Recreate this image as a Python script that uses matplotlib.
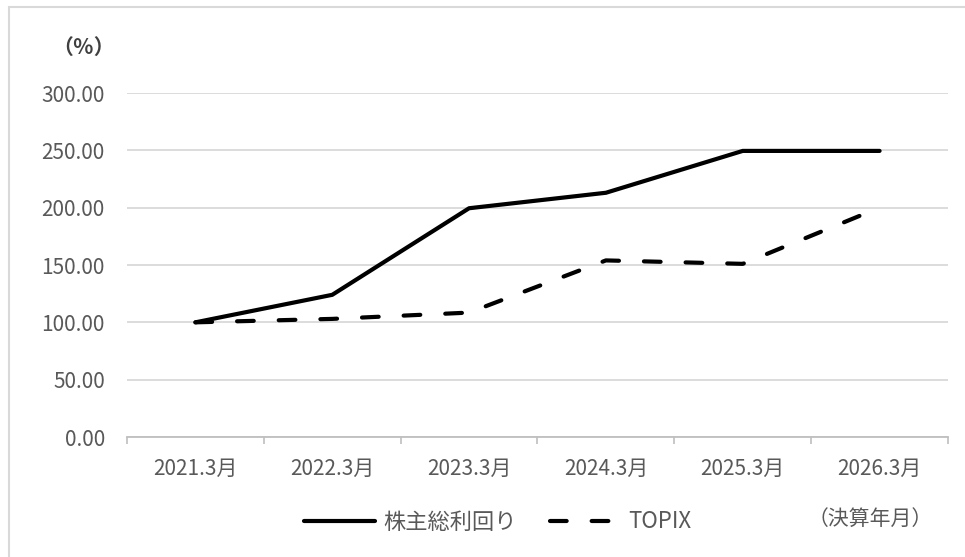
# TSR chart vs TOPIX -> out.png
import matplotlib.pyplot as plt
from matplotlib.patches import Rectangle
import numpy as np

plt.rcParams['font.family'] = ['Noto Sans CJK JP', 'DejaVu Sans']

periods = ["2021.3月", "2022.3月", "2023.3月", "2024.3月", "2025.3月", "2026.3月"]
tsr = [100.0, 124.0, 199.5, 213.0, 249.5, 249.5]
topix = [100.0, 103.0, 108.5, 154.0, 151.0, 200.0]
yticks = [0, 50, 100, 150, 200, 250, 300]

fig = plt.figure(figsize=(9.65, 5.57), dpi=100)
ax = fig.add_axes([127 / 965, 1 - 437 / 557, (948 - 127) / 965, (437 - 93) / 557])

x = np.arange(len(periods))
ax.plot(x, tsr, color="black", lw=3.0, solid_capstyle="round", solid_joinstyle="round",
        label="株主総利回り")
ax.plot(x, topix, color="black", lw=3.0, dashes=(4, 6), dash_capstyle="round",
        label="TOPIX")

ax.set_xlim(-0.5, len(periods) - 0.5)
ax.set_ylim(0, 300)
ax.set_yticks(yticks)
ax.set_yticklabels([f"{v:.2f}" for v in yticks], fontsize=15, color="#595959")
ax.set_xticks(x)
ax.set_xticklabels(periods, fontsize=15, color="#595959")
ax.set_xticks(np.arange(len(periods) + 1) - 0.5, minor=True)
ax.tick_params(axis="x", which="major", length=0, pad=15)
ax.tick_params(axis="x", which="minor", length=5, color="#bfbfbf", width=1.2)
ax.tick_params(axis="y", length=0, pad=16)

ax.grid(axis="y", color="#d9d9d9", lw=1.3)
ax.set_axisbelow(True)
for s in ["top", "right", "left"]:
    ax.spines[s].set_visible(False)
ax.spines["bottom"].set_color("#bfbfbf")
ax.spines["bottom"].set_linewidth(1.3)

fig.text(84 / 965, 1 - 47 / 557, "（％）", ha="center", va="center", fontsize=15,
         color="#404040", fontweight="bold")

leg = fig.legend(loc="center", bbox_to_anchor=(498 / 965, 1 - 522 / 557), ncol=2,
                 frameon=False, fontsize=16, handlelength=3.2, columnspacing=1.5,
                 handletextpad=0.35)
for t in leg.get_texts():
    t.set_color("#595959")
fig.text(870 / 965, 1 - 519 / 557, "（決算年月）", ha="center", va="center",
         fontsize=15, color="#595959")

fig.add_artist(Rectangle((9 / 965, -0.1), 1.2, 1.1 - 7 / 557, transform=fig.transFigure,
                         fill=False, ec="#d9d9d9", lw=1.5))

fig.savefig("out.png", dpi=100)
